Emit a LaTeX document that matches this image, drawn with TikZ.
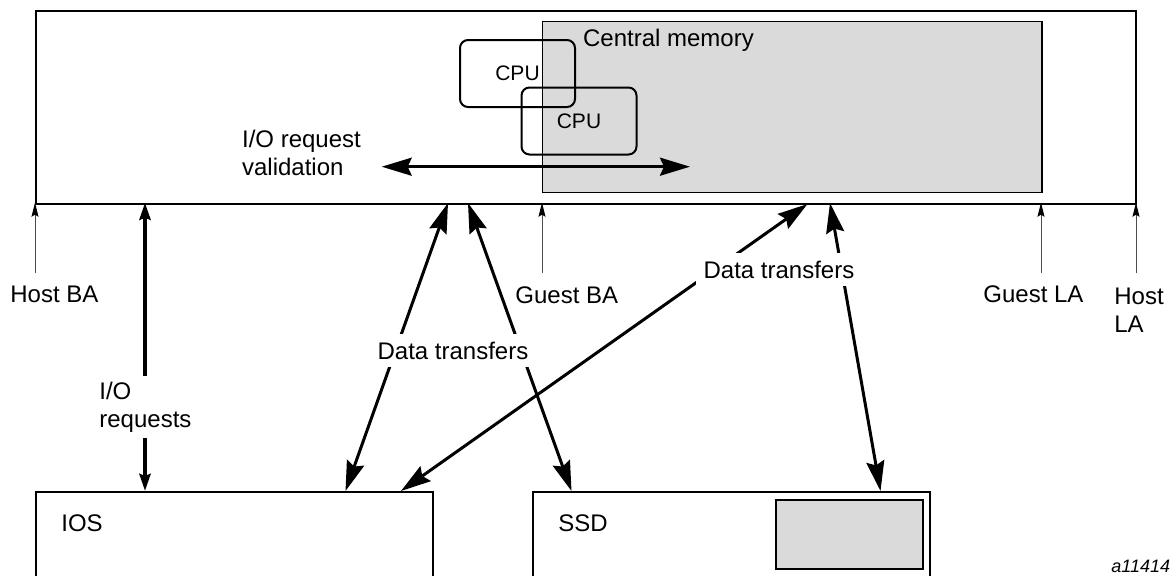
\documentclass[tikz,border=0pt]{standalone}
\usepackage{fontspec}
\setmainfont{Liberation Sans}
\usetikzlibrary{arrows.meta}
\definecolor{memfill}{RGB}{218,218,218}

\begin{document}
\begin{tikzpicture}[x=0.5pt,y=-0.5pt,
  lbl/.style={font=\fontsize{12}{14}\selectfont, inner sep=0pt, align=left},
  cut/.style={lbl, fill=white, inner sep=4pt},
  frame/.style={draw, line width=1pt, anchor=north west, inner sep=0pt},
  cpubox/.style={draw, line width=1pt, rounded corners=4pt, inner sep=0pt,
    minimum width=57.5pt, minimum height=33.5pt, font=\fontsize{10.5}{12}\selectfont},
  xfer/.style={line width=1.5pt,
    {Stealth[length=15pt,width=9pt,inset=2pt]}-{Stealth[length=15pt,width=9pt,inset=2pt]}},
  valid/.style={line width=1.4pt,
    {Stealth[length=15pt,width=9pt,inset=2pt]}-{Stealth[length=15pt,width=9pt,inset=2pt]}},
  req/.style={line width=2pt,
    {Stealth[length=8.5pt,width=5.5pt,inset=1pt]}-{Stealth[length=8.5pt,width=5.5pt,inset=1pt]}},
  addr/.style={line width=0.5pt, draw=black!70, -{Stealth[length=7pt,width=3.5pt,inset=1pt,black]}}
]
\useasboundingbox (0,0) rectangle (1175,575);

% host system frame and central memory
\node[frame, minimum width=550pt, minimum height=96.3pt] (host) at (35,10) {};
\node[draw, line width=0.8pt, fill=memfill, anchor=north west, inner sep=0pt,
      minimum width=249.6pt, minimum height=85.5pt] (mem) at (541.7,20.7) {};
\node[lbl, anchor=base west] (memlbl) at (582.7,46.7) {Central memory};

% CPUs (outlines only, overlapping the memory area)
\node[cpubox] (cpu1) at (517.5,73.5) {CPU};
\node[cpubox] (cpu2) at (579,121) {CPU};

% request validation
\coordinate (valL) at (381.7,166.7);
\coordinate (valR) at (690,166.7);
\draw[valid] (valL) -- (valR);
\node[lbl, anchor=north west] (vallbl) at (241.7,129.5) {I/O request\\validation};

% subsystems below
\node[frame, minimum width=198.5pt, minimum height=50pt] (ios) at (35,491) {};
\node[lbl, anchor=base west] (ioslbl) at (61,531) {IOS};
\node[frame, minimum width=198.5pt, minimum height=50pt] (ssd) at (531.5,491) {};
\node[lbl, anchor=base west] (ssdlbl) at (558,531) {SSD};
\node[draw, line width=0.8pt, fill=memfill, anchor=north west, inner sep=0pt,
      minimum width=73.5pt, minimum height=34.5pt] (ssdmem) at (775,499) {};

% connector end points on the frames
\coordinate (hReq)  at (145,202.7);
\coordinate (iReq)  at (145,491);
\coordinate (hA)    at (448,203);
\coordinate (iA)    at (345.5,491);
\coordinate (hB)    at (468,203);
\coordinate (sB)    at (571.5,491);
\coordinate (hC)    at (807.5,204);
\coordinate (iC)    at (401,491);
\coordinate (hD)    at (830,203);
\coordinate (sD)    at (880.5,491);

\draw[req]  (iReq) -- (hReq);
\draw[xfer] (iA) -- (hA);
\draw[xfer] (sB) -- (hB);
\draw[xfer] (iC) -- (hC);
\draw[xfer] (sD) -- (hD);

% labels that break the connectors
\node[cut, anchor=north west, inner xsep=2pt, inner ysep=3pt] (reqlbl) at (95,375.5) {I/O\\requests};
\node[cut, anchor=base] (xferL) at (453,359) {Data transfers};
\node[cut, anchor=base] (xferR) at (779,278) {Data transfers};

% base and limit address markers
\coordinate (hbaF) at (35,273);
\coordinate (hbaT) at (35,202.7);
\coordinate (gbaF) at (542,273);
\coordinate (gbaT) at (542,202.7);
\coordinate (glaF) at (1041,273);
\coordinate (glaT) at (1041,202.7);
\coordinate (hlaF) at (1136,273);
\coordinate (hlaT) at (1136,202.7);
\draw[addr] (hbaF) -- (hbaT);
\draw[addr] (gbaF) -- (gbaT);
\draw[addr] (glaF) -- (glaT);
\draw[addr] (hlaF) -- (hlaT);
\node[lbl, anchor=base west] (hba) at (10,302) {Host BA};
\node[lbl, anchor=base west] (gba) at (515,303) {Guest BA};
\node[lbl, anchor=base west] (gla) at (983,302) {Guest LA};
\node[lbl, anchor=north west] (hla) at (1114,287.5) {Host\\LA};

% figure number
\node[inner sep=0pt, anchor=base west, font=\fontsize{9}{10}\selectfont\itshape] (fig) at (1111,572) {a11414};
\end{tikzpicture}
\end{document}
